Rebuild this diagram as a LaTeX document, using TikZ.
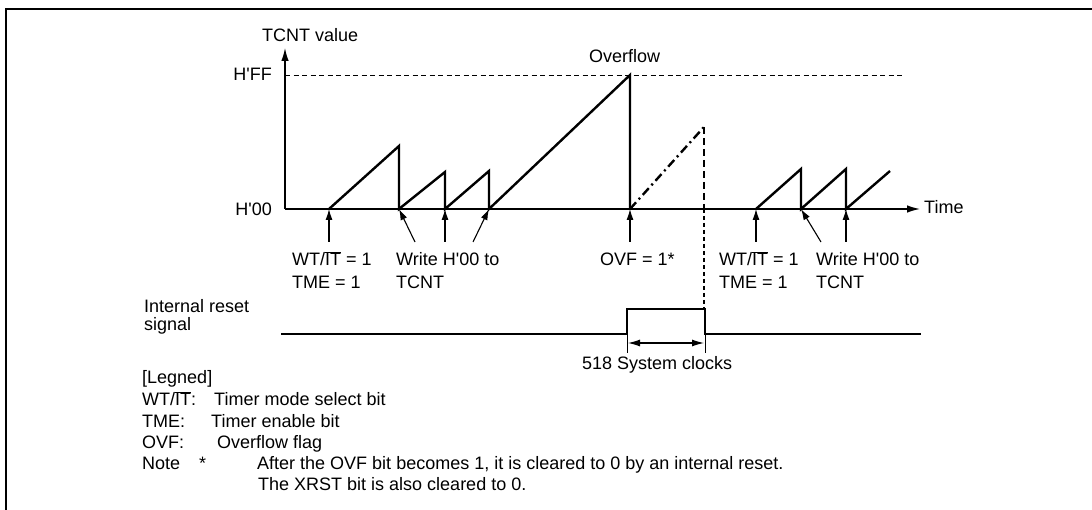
\documentclass[tikz,border=0pt]{standalone}
\usepackage{fontspec}
\setmainfont{Liberation Sans}
\usetikzlibrary{arrows.meta}
\newcommand\ovl[1]{$\overline{\mbox{#1}}$}
\newcommand\apo{\textquotesingle}
\begin{document}
\begin{tikzpicture}[x=1pt,y=-1pt,
  txt/.style={inner sep=0pt,anchor=base west,font=\fontsize{18}{21}\selectfont},
  txte/.style={txt,anchor=base east},
  thick line/.style={line width=2.4pt,line join=miter},
  axisline/.style={line width=1.3pt},
  evarrow/.style={line width=1.1pt,-{Latex[length=11pt,width=7pt]}},
  frame/.style={line width=2.2pt}]
\useasboundingbox (0,0) rectangle (1092,510);
% frame (top and left only)
\coordinate (fr0) at (6,510);
\coordinate (fr1) at (6,9);
\coordinate (fr2) at (1092,9);
\draw[frame] (fr0) -- (fr1) -- (fr2);

% axes
\coordinate (O) at (285,209);
\coordinate (ytop) at (285,48);
\coordinate (xend) at (920,209);
\draw[axisline,-{Latex[length=13pt,width=7.5pt]}] (O) -- (ytop);
\draw[axisline,-{Latex[length=13pt,width=7.5pt]}] (O) -- (xend);
\node[txt] (tcnt) at (262,42) {TCNT value};
\node[txt] (time) at (924,214) {Time};
\node[txte] (hff) at (272,81) {H\apo FF};
\node[txte] (h00) at (272,216) {H\apo 00};
\node[txt] (ovf) at (589,63) {Overflow};
\coordinate (ff0) at (285,75);
\coordinate (ff1) at (905,75);
\draw[line width=0.9pt,dash pattern=on 5pt off 3.5pt] (ff0) -- (ff1);

% sawtooth
\coordinate (a0) at (329,209);
\coordinate (a1) at (399,146);
\coordinate (a2) at (399,209);
\coordinate (a3) at (445,172);
\coordinate (a4) at (445,209);
\coordinate (a5) at (489,171);
\coordinate (a6) at (489,209);
\coordinate (a7) at (630,75);
\coordinate (a8) at (630,209);
\draw[thick line] (a0) -- (a1) -- (a2) -- (a3) -- (a4) -- (a5) -- (a6) -- (a7) -- (a8);
\coordinate (d1) at (704,127);
\coordinate (d2) at (704,209);
\coordinate (d3) at (704,309);
\draw[line width=2.4pt,dash pattern=on 9pt off 4pt on 2pt off 4pt] (a8) -- (d1);
\draw[line width=2.4pt,dash pattern=on 7pt off 4pt] (d1) -- (d2);
\draw[line width=1.1pt,dash pattern=on 4pt off 3pt] (d2) -- (d3);

\coordinate (b0) at (756,209);
\coordinate (b1) at (801,169);
\coordinate (b2) at (801,209);
\coordinate (b3) at (846,169);
\coordinate (b4) at (846,209);
\coordinate (b5) at (890,171);
\draw[thick line] (b0) -- (b1) -- (b2) -- (b3) -- (b4) -- (b5);

% event arrows
\coordinate (e1) at (329,242);
\coordinate (e2) at (415,242);
\coordinate (e3) at (445,242);
\coordinate (e4) at (473,242);
\coordinate (e5) at (630,242);
\coordinate (e6) at (756,242);
\coordinate (e7) at (821,242);
\coordinate (e8) at (846,242);
\draw[evarrow] (e1) -- (a0);
\draw[evarrow] (e2) -- (a2);
\draw[evarrow] (e3) -- (a4);
\draw[evarrow] (e4) -- (a6);
\draw[evarrow] (e5) -- (a8);
\draw[evarrow] (e6) -- (b0);
\draw[evarrow] (e7) -- (b2);
\draw[evarrow] (e8) -- (b4);

% event labels
\node[txt] (l1a) at (292,266) {WT/\ovl{IT} = 1};
\node[txt] (l1b) at (292,289) {TME = 1};
\node[txt] (l2a) at (396,266) {Write H\apo 00 to};
\node[txt] (l2b) at (396,289) {TCNT};
\node[txt] (l3a) at (600,266) {OVF = 1*};
\node[txt] (l4a) at (719,266) {WT/\ovl{IT} = 1};
\node[txt] (l4b) at (719,289) {TME = 1};
\node[txt] (l5a) at (816,266) {Write H\apo 00 to};
\node[txt] (l5b) at (816,289) {TCNT};

% internal reset signal
\node[txt] (irs1) at (144,313) {Internal reset};
\node[txt] (irs2) at (144,331) {signal};
\coordinate (r0) at (281,334);
\coordinate (r1) at (627,334);
\coordinate (r2) at (627,309);
\coordinate (r3) at (705,309);
\coordinate (r4) at (705,334);
\coordinate (r5) at (921,334);
\draw[thick line] (r0) -- (r1) -- (r2) -- (r3) -- (r4) -- (r5);
\coordinate (t1) at (627,353);
\coordinate (t2) at (705,353);
\draw[line width=0.9pt] (r1) -- (t1);
\draw[line width=0.9pt] (r4) -- (t2);
\coordinate (da) at (628,343);
\coordinate (db) at (704,343);
\draw[line width=1.1pt,{Latex[length=12pt,width=7pt]}-{Latex[length=12pt,width=7pt]}] (da) -- (db);
\node[txt] (clk) at (582,370) {518 System clocks};

% legend
\node[txt] (leg) at (142,384) {[Legned]};
\node[txt] (k1) at (142,406) {WT/\ovl{IT}:};
\node[txt] (v1) at (214,406) {Timer mode select bit};
\node[txt] (k2) at (142,427) {TME:};
\node[txt] (v2) at (211,427) {Timer enable bit};
\node[txt] (k3) at (142,448) {OVF:};
\node[txt] (v3) at (217,448) {Overflow flag};
\node[txt] (k4) at (142,469) {Note};
\node[txt] (k4s) at (199,469) {*};
\node[txt] (v4) at (257,469) {After the OVF bit becomes 1, it is cleared to 0 by an internal reset.};
\node[txt] (v5) at (258,490) {The XRST bit is also cleared to 0.};
\end{tikzpicture}
\end{document}
